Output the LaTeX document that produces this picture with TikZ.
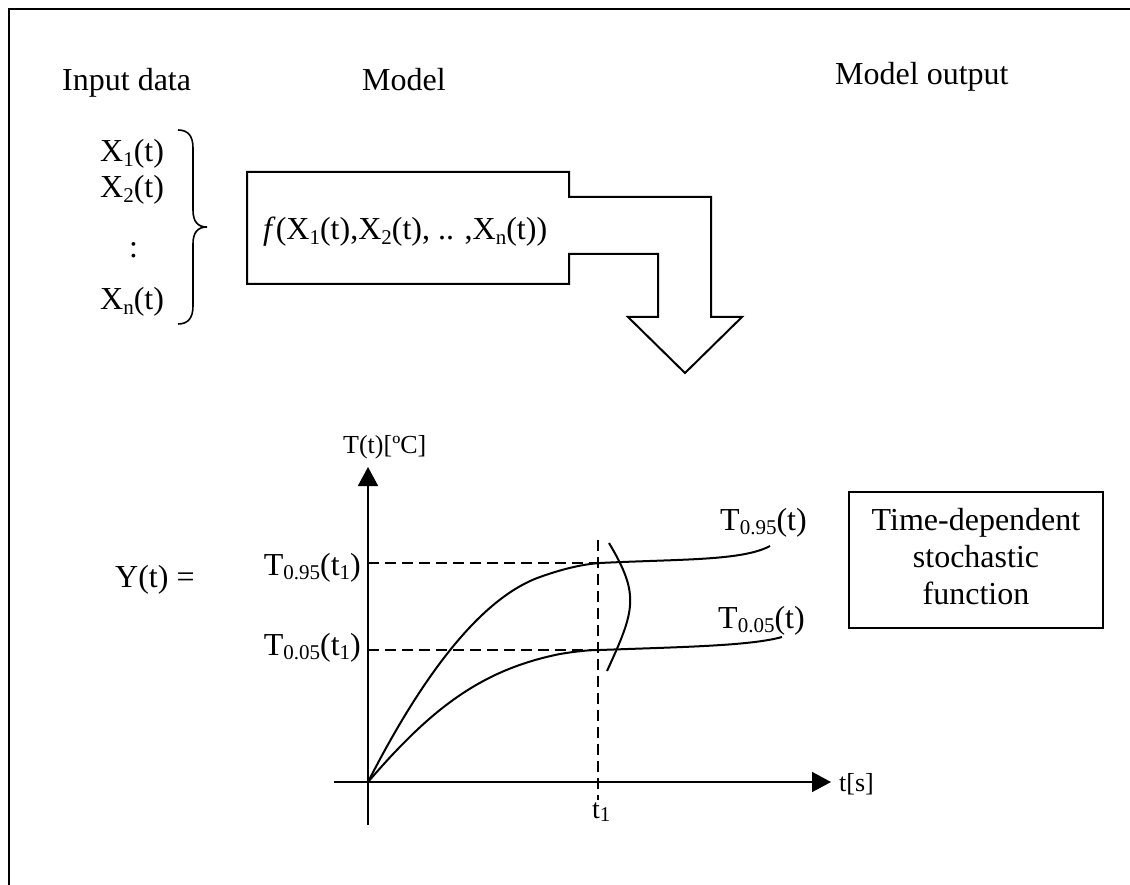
\documentclass[tikz,border=0pt]{standalone}
\usepackage{fontspec}
\setmainfont{Liberation Serif}
\usetikzlibrary{arrows.meta}
\newcommand{\mysub}[1]{\raisebox{-0.14em}{\fontsize{21}{21}\selectfont #1}}
\tikzset{
  lbl/.style={inner sep=0pt, font=\fontsize{32}{37}\selectfont},
  smalllbl/.style={inner sep=0pt, font=\fontsize{26}{30}\selectfont},
  frameline/.style={line width=2.5pt},
  modelshape/.style={line width=2pt},
  axis/.style={line width=1.6pt, -{Triangle[length=19pt,width=20pt]}},
  guide/.style={line width=1.6pt, dash pattern=on 11pt off 6pt},
  curve/.style={line width=2pt},
}
\begin{document}
\begin{tikzpicture}[x=1pt,y=-1pt]
\useasboundingbox (0,0) rectangle (1130,885);
% frame
\coordinate (fa) at (9,885);
\coordinate (fb) at (9,9);
\coordinate (fc) at (1130,9);
\draw[frameline] (fa) -- (fb) -- (fc);
% headings
\node[lbl, anchor=base west] (inp) at (62,91) {Input data};
\node[lbl, anchor=base west] (mod) at (362,91) {Model};
\node[lbl, anchor=base west] (out) at (835,85) {Model output};
% inputs
\node[lbl, anchor=base west] (x1) at (100,162) {X\mysub{1}(t)};
\node[lbl, anchor=base west] (x2) at (100,198) {X\mysub{2}(t)};
\node[lbl, anchor=base west] (xd) at (129,258) {:};
\node[lbl, anchor=base west] (xn) at (100,310) {X\mysub{n}(t)};
% brace
\draw[line width=1.6pt] (178,130) .. controls (188,130) and (193,136) .. (193,148)
  -- (193,210) .. controls (193,222) and (198,227) .. (207,227)
  .. controls (198,227) and (193,232) .. (193,244)
  -- (193,306) .. controls (193,318) and (188,324) .. (178,324);
% model box with bent arrow
\draw[modelshape, line join=miter] (247,172) -- (569,172) -- (569,197) -- (711,197) -- (711,317)
  -- (742,317) -- (685,373) -- (628,317) -- (658,317) -- (658,254) -- (569,254)
  -- (569,284) -- (247,284) -- cycle;
\node[lbl, anchor=base west] (fx) at (263,240) {\textit{f}(X\mysub{1}(t),X\mysub{2}(t), .. ,X\mysub{n}(t))};
% graph
\coordinate (o) at (368,782);
\coordinate (yb) at (368,825);
\coordinate (yt) at (368,467);
\coordinate (xl) at (334,782);
\coordinate (xr) at (831,782);
\draw[axis] (yb) -- (yt);
\draw[axis] (xl) -- (xr);
\node[smalllbl, anchor=base west] (ylab) at (343,453) {T(t)[ºC]};
\node[smalllbl, anchor=base west] (xlab) at (839,791) {t[s]};
% guides
\coordinate (ha1) at (368,563);
\coordinate (hb1) at (600,563);
\coordinate (ha2) at (368,650);
\coordinate (hb2) at (600,650);
\coordinate (vt) at (598,540);
\coordinate (vb) at (598,800);
\draw[guide] (ha1) -- (hb1);
\draw[guide] (ha2) -- (hb2);
\draw[guide] (vt) -- (vb);
% curves
\draw[curve] (o) .. controls (415,690) and (475,600) .. (540,577)
  .. controls (565,568) and (585,564) .. (600,563)
  .. controls (680,559) and (742,561) .. (770,546);
\draw[curve] (o) .. controls (430,710) and (480,670) .. (560,654)
  .. controls (578,651) and (590,650) .. (600,650)
  .. controls (680,647) and (750,646) .. (782,637);
\draw[curve] (609,543) .. controls (640,595) and (635,610) .. (607,671);
% labels
\node[lbl, anchor=base west] (yt1) at (115,587) {Y(t) =};
\node[lbl, anchor=base east] (t95a) at (361,575) {T\mysub{0.95}(t\mysub{1})};
\node[lbl, anchor=base east] (t05a) at (361,655) {T\mysub{0.05}(t\mysub{1})};
\node[lbl, anchor=base west] (t95b) at (720,530) {T\mysub{0.95}(t)};
\node[lbl, anchor=base west] (t05b) at (718,628) {T\mysub{0.05}(t)};
\node[inner sep=0pt, font=\fontsize{28}{32}\selectfont, anchor=base west] (t1) at (592,818) {t\mysub{1}};
% box
\draw[line width=1.6pt] (849,492) rectangle (1103,628);
\node[lbl, align=center] (tdsf) at (976,557) {Time-dependent\\stochastic\\function};
\end{tikzpicture}
\end{document}
